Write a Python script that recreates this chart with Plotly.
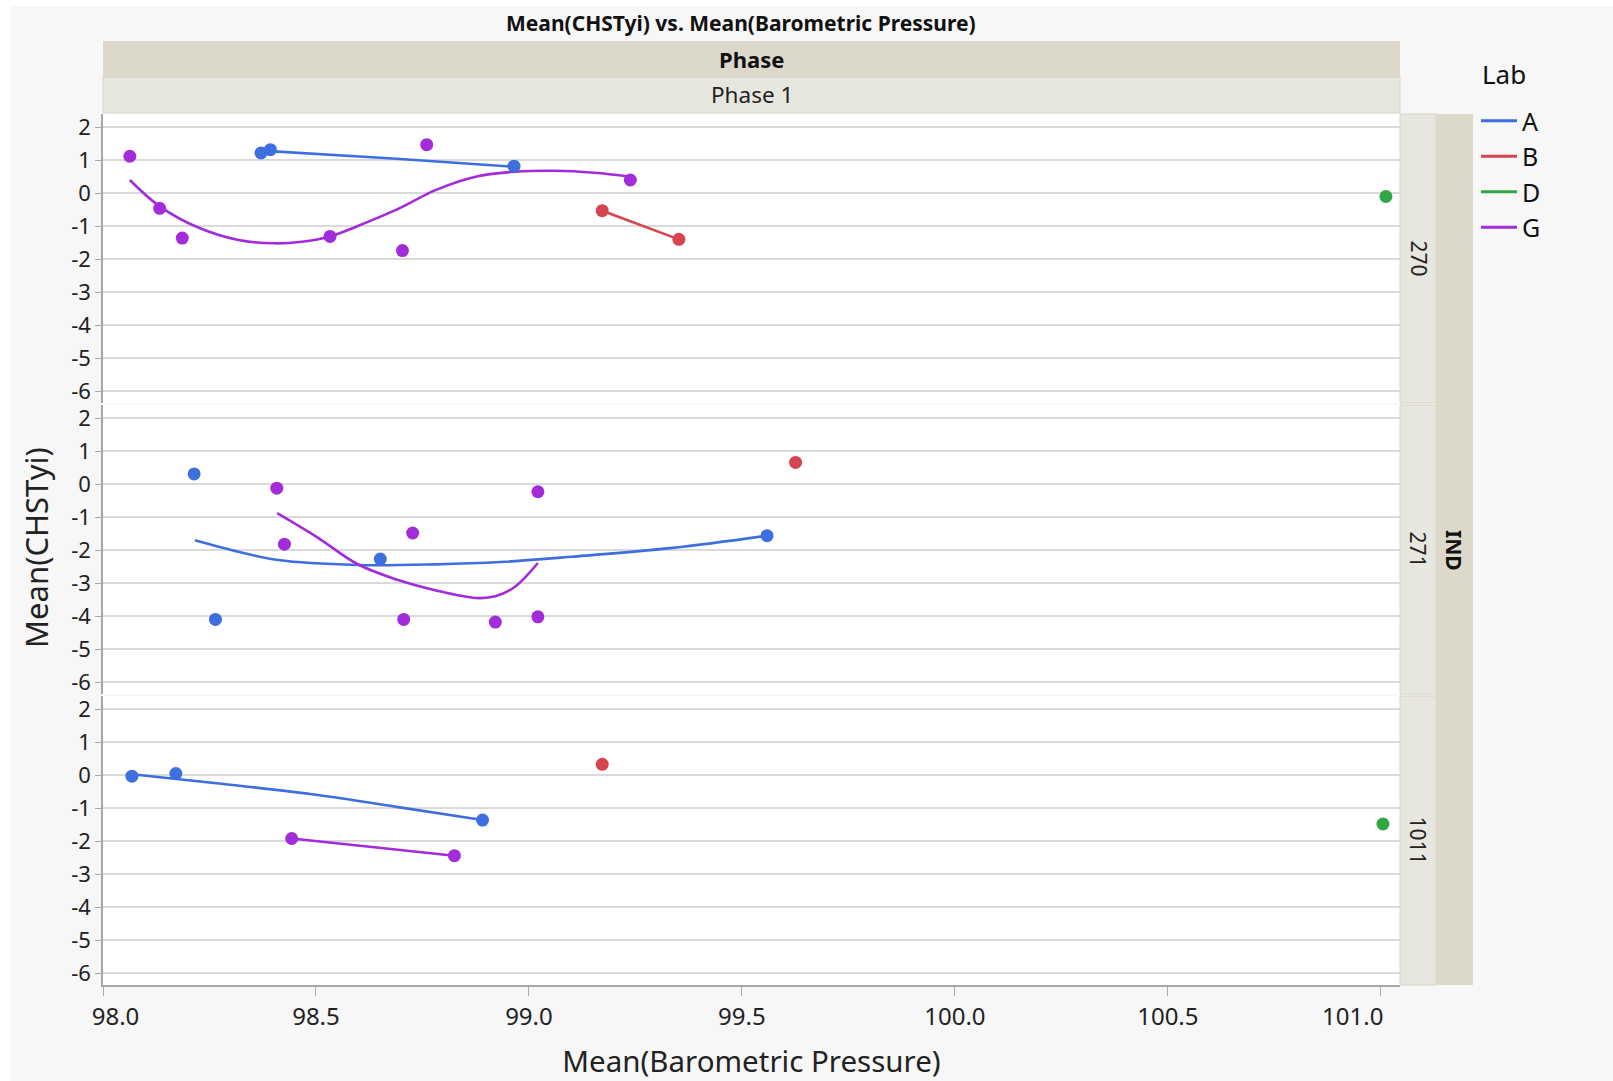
import plotly.graph_objects as go

W, H = 1613, 1081
FONT = "Noto Sans"

# ---------------- data ----------------
lab_names = ["A", "B", "D", "G"]
lab_colors = ["#3D6FDE", "#D6444F", "#2FA843", "#A22CDA"]
panel_names = ["270", "271", "1011"]

x_ticks = [98.0, 98.5, 99.0, 99.5, 100.0, 100.5, 101.0]
x_tick_labels = ["98.0", "98.5", "99.0", "99.5", "100.0", "100.5", "101.0"]
y_ticks = [2, 1, 0, -1, -2, -3, -4, -5, -6]
y_tick_labels = ["2", "1", "0", "-1", "-2", "-3", "-4", "-5", "-6"]

# panel 270 points
p270_A_x = [98.371, 98.393, 98.965]
p270_A_y = [1.22, 1.32, 0.82]
p270_B_x = [99.172, 99.352]
p270_B_y = [-0.53, -1.40]
p270_D_x = [101.012]
p270_D_y = [-0.10]
p270_G_x = [98.063, 98.133, 98.186, 98.533, 98.703, 98.760, 99.238]
p270_G_y = [1.12, -0.46, -1.36, -1.31, -1.74, 1.47, 0.40]

# panel 271 points
p271_A_x = [98.214, 98.264, 98.651, 99.559]
p271_A_y = [0.31, -4.10, -2.27, -1.56]
p271_B_x = [99.626]
p271_B_y = [0.66]
p271_G_x = [98.408, 98.426, 98.706, 98.727, 98.921, 99.021, 99.021]
p271_G_y = [-0.12, -1.82, -4.10, -1.48, -4.18, -4.02, -0.23]

# panel 1011 points
p1011_A_x = [98.068, 98.171, 98.891]
p1011_A_y = [-0.03, 0.05, -1.36]
p1011_B_x = [99.172]
p1011_B_y = [0.33]
p1011_D_x = [101.005]
p1011_D_y = [-1.48]
p1011_G_x = [98.443, 98.825]
p1011_G_y = [-1.92, -2.44]

# smoother curves
f270_A_x = [98.371, 98.68, 98.965]
f270_A_y = [1.29, 1.05, 0.80]
f270_B_x = [99.172, 99.352]
f270_B_y = [-0.53, -1.40]
f270_G_x = [98.063, 98.133, 98.225, 98.318, 98.402, 98.467, 98.533, 98.597,
            98.689, 98.782, 98.875, 98.968, 99.060, 99.153, 99.238]
f270_G_y = [0.40, -0.40, -1.05, -1.42, -1.52, -1.47, -1.31, -1.00,
            -0.50, 0.10, 0.50, 0.65, 0.68, 0.62, 0.50]

f271_A_x = [98.216, 98.318, 98.411, 98.597, 98.782, 98.933, 99.10, 99.337, 99.559]
f271_A_y = [-1.70, -2.05, -2.30, -2.45, -2.43, -2.36, -2.20, -1.93, -1.56]
f271_G_x = [98.409, 98.504, 98.597, 98.689, 98.782, 98.875, 98.921, 98.968, 99.021]
f271_G_y = [-0.88, -1.62, -2.42, -2.89, -3.22, -3.45, -3.40, -3.10, -2.39]

f1011_A_x = [98.068, 98.272, 98.504, 98.689, 98.891]
f1011_A_y = [0.03, -0.25, -0.60, -0.96, -1.36]
f1011_G_x = [98.443, 98.825]
f1011_G_y = [-1.92, -2.44]

# -------------- assemble --------------
points = {
    "270": {"A": (p270_A_x, p270_A_y), "B": (p270_B_x, p270_B_y),
            "D": (p270_D_x, p270_D_y), "G": (p270_G_x, p270_G_y)},
    "271": {"A": (p271_A_x, p271_A_y), "B": (p271_B_x, p271_B_y),
            "G": (p271_G_x, p271_G_y)},
    "1011": {"A": (p1011_A_x, p1011_A_y), "B": (p1011_B_x, p1011_B_y),
             "D": (p1011_D_x, p1011_D_y), "G": (p1011_G_x, p1011_G_y)},
}
fits = {
    "270": {"A": (f270_A_x, f270_A_y), "B": (f270_B_x, f270_B_y), "G": (f270_G_x, f270_G_y)},
    "271": {"A": (f271_A_x, f271_A_y), "G": (f271_G_x, f271_G_y)},
    "1011": {"A": (f1011_A_x, f1011_A_y), "G": (f1011_G_x, f1011_G_y)},
}
color_of = dict(zip(lab_names, lab_colors))


def fx(p):
    return p / W


def fy(p):
    return 1 - p / H


# pixel layout
PX_L, PX_R = 103, 1400
panel_px = [(114, 403), (405, 694), (696, 985)]
axis_ids = ["", "2", "3"]

fig = go.Figure()

for i, pname in enumerate(panel_names):
    xa, ya = "x" + axis_ids[i], "y" + axis_ids[i]
    for lab, (xs, ys) in fits[pname].items():
        fig.add_trace(go.Scatter(x=xs, y=ys, mode="lines", xaxis=xa, yaxis=ya,
                                 line=dict(color=color_of[lab], width=2.6, shape="spline", smoothing=1.0),
                                 showlegend=False, hoverinfo="skip"))
    for lab, (xs, ys) in points[pname].items():
        fig.add_trace(go.Scatter(x=xs, y=ys, mode="markers", xaxis=xa, yaxis=ya,
                                 marker=dict(color=color_of[lab], size=13, line=dict(width=0)),
                                 showlegend=False, name=lab))

for lab in lab_names:
    fig.add_trace(go.Scatter(x=[None], y=[None], mode="lines", name=lab,
                             line=dict(color=color_of[lab], width=3), xaxis="x", yaxis="y"))

layout = dict(
    width=W, height=H,
    margin=dict(l=0, r=0, t=0, b=0, pad=0, autoexpand=False),
    paper_bgcolor="white",
    plot_bgcolor="white",
    font=dict(family=FONT, color="#111111"),
    showlegend=True,
    legend=dict(x=fx(1476), y=fy(98), xanchor="left", yanchor="top",
                bgcolor="rgba(0,0,0,0)", font=dict(size=25, family=FONT, color="#111111"),
                itemwidth=36, tracegroupgap=0),
)

GRID = "#dadada"
AXLINE = "#a8a8a8"
for i in range(3):
    top, bot = panel_px[i]
    xkey = "xaxis" + axis_ids[i]
    ykey = "yaxis" + axis_ids[i]
    last = (i == 2)
    layout[xkey] = dict(
        domain=[fx(PX_L), fx(PX_R)], range=[98.0, 101.045],
        anchor="y" + axis_ids[i], automargin=False,
        showgrid=False, zeroline=False,
        tickmode="array", tickvals=x_ticks,
        ticktext=(["\u00a0" * 4 + x_tick_labels[0]] + x_tick_labels[1:-1]
                  + [x_tick_labels[-1] + "\u00a0" * 9]) if last else None,
        showticklabels=last,
        ticks="outside" if last else "", ticklen=9, tickcolor=AXLINE, tickwidth=1.2,
        showline=last, linecolor=AXLINE, linewidth=1.5,
        tickfont=dict(size=24, family=FONT, color="#222222"),
        matches=None if i == 0 else "x",
    )
    if last:
        layout[xkey]["title"] = dict(text="Mean(Barometric Pressure)",
                                     font=dict(size=29.5, family=FONT, color="#222222"),
                                     standoff=22)
    layout[ykey] = dict(
        domain=[fy(bot), fy(top)], range=[-6.36, 2.40],
        anchor="x" + axis_ids[i], automargin=False,
        tickmode="array", tickvals=y_ticks, ticktext=y_tick_labels,
        showgrid=True, gridcolor=GRID, gridwidth=1.6, zeroline=False,
        ticks="outside", ticklen=6, tickcolor=AXLINE, tickwidth=1.2,
        showline=True, linecolor=AXLINE, linewidth=1.5,
        tickfont=dict(size=22, family=FONT, color="#222222"),
    )

fig.update_layout(**layout)

shapes = []
annotations = []
# page background
shapes.append(dict(type="rect", xref="paper", yref="paper", x0=fx(10), x1=1, y0=0, y1=fy(6),
                   fillcolor="#f7f7f7", line=dict(width=0), layer="below"))
# re-paint plot areas white (drawn below traces)
for top, bot in panel_px:
    shapes.append(dict(type="rect", xref="paper", yref="paper", x0=fx(PX_L), x1=fx(PX_R),
                       y0=fy(bot), y1=fy(top), fillcolor="white", line=dict(width=0), layer="below"))
# top strips
DARK = "#dcd9ca"
LIGHT = "#e8e7df"
shapes.append(dict(type="rect", xref="paper", yref="paper", x0=fx(PX_L), x1=fx(PX_R),
                   y0=fy(77), y1=fy(41), fillcolor=DARK, line=dict(width=0)))
shapes.append(dict(type="rect", xref="paper", yref="paper", x0=fx(PX_L), x1=fx(PX_R),
                   y0=fy(113), y1=fy(77), fillcolor=LIGHT, line=dict(color="#d6d4c6", width=1)))
annotations.append(dict(text="<b>Phase</b>", xref="paper", yref="paper", x=fx((PX_L + PX_R) / 2), y=fy(59),
                        showarrow=False, font=dict(size=22, family=FONT, color="#111111"),
                        xanchor="center", yanchor="middle"))
annotations.append(dict(text="Phase 1", xref="paper", yref="paper", x=fx((PX_L + PX_R) / 2), y=fy(95),
                        showarrow=False, font=dict(size=22.5, family=FONT, color="#222222"),
                        xanchor="center", yanchor="middle"))
# right strips
for (top, bot), pname in zip(panel_px, panel_names):
    shapes.append(dict(type="rect", xref="paper", yref="paper", x0=fx(PX_R), x1=fx(1436),
                       y0=fy(bot), y1=fy(top), fillcolor=LIGHT, line=dict(color="#d6d4c6", width=1)))
    annotations.append(dict(text=pname, xref="paper", yref="paper", x=fx(1418), y=fy((top + bot) / 2),
                            showarrow=False, textangle=90, font=dict(size=21, family=FONT, color="#222222"),
                            xanchor="center", yanchor="middle"))
shapes.append(dict(type="rect", xref="paper", yref="paper", x0=fx(1436), x1=fx(1473),
                   y0=fy(985), y1=fy(114), fillcolor=DARK, line=dict(width=0)))
annotations.append(dict(text="<b>IND</b>", xref="paper", yref="paper", x=fx(1454), y=fy(550),
                        showarrow=False, textangle=90, font=dict(size=21, family=FONT, color="#111111"),
                        xanchor="center", yanchor="middle"))
# legend title
annotations.append(dict(text="Lab", xref="paper", yref="paper", x=fx(1480), y=fy(74),
                        showarrow=False, font=dict(size=26, family=FONT, color="#111111"),
                        xanchor="left", yanchor="middle"))
# title
annotations.append(dict(text="<b>Mean(CHSTyi) vs. Mean(Barometric Pressure)</b>", xref="paper", yref="paper",
                        x=fx(741), y=fy(23), showarrow=False,
                        font=dict(size=21, family=FONT, color="#111111"),
                        xanchor="center", yanchor="middle"))
# y axis title
annotations.append(dict(text="Mean(CHSTyi)", xref="paper", yref="paper", x=fx(36), y=fy(548),
                        showarrow=False, textangle=-90, font=dict(size=31, family=FONT, color="#222222"),
                        xanchor="center", yanchor="middle"))

fig.update_layout(shapes=shapes, annotations=annotations)
fig.write_html("out.html")
